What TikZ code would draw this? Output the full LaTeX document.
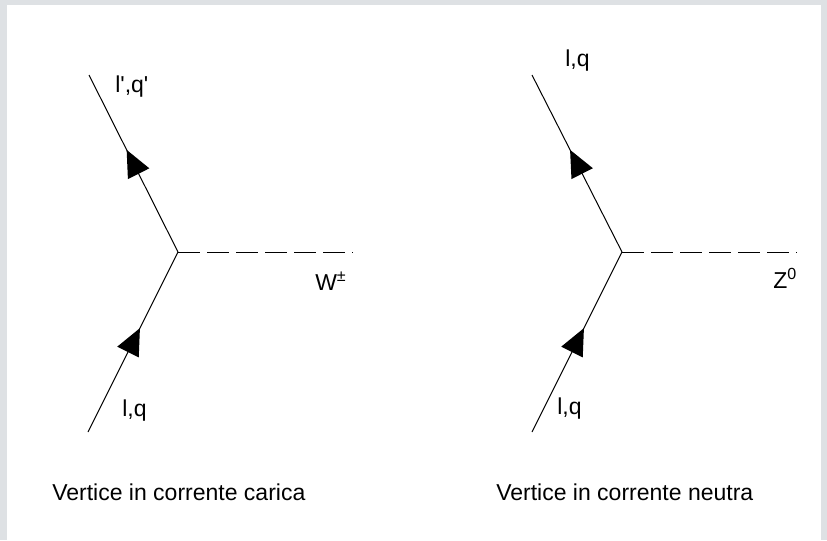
\documentclass[tikz,border=0pt]{standalone}
\usepackage{fontspec}
\setmainfont{Liberation Sans}
\usetikzlibrary{decorations.markings}
\definecolor{framegray}{HTML}{DEE1E4}
\begin{document}
\begin{tikzpicture}[x=0.75pt,y=-0.75pt,
  lbl/.style={font=\fontsize{17.25}{20}\selectfont, inner sep=0pt, anchor=base west},
  fermion/.style={line width=0.75pt, postaction={decorate},
    decoration={markings, mark=at position 0.577 with {\fill (0pt,0pt) -- (-20pt,9pt) -- (-20pt,-9pt) -- cycle;}}},
  boson/.style={line width=0.75pt, dash pattern=on 16.5pt off 5.25pt}]
\useasboundingbox (0,0) rectangle (827,540);
\fill[framegray] (0,0) rectangle (827,540);
\fill[white] (7,5) rectangle (821,540);
% left diagram
\coordinate (v1) at (178,252);
\coordinate (t1) at (89,75);
\coordinate (b1) at (88,432);
\coordinate (e1) at (353,252);
\draw[fermion] (b1) -- (v1);
\draw[fermion] (v1) -- (t1);
\draw[boson] (v1) -- (e1);
\node[lbl] (lt1) at (115,92) {l\textquotesingle,q\textquotesingle};
\node[lbl] (lb1) at (122,416) {l,q};
\node[lbl] (lw) at (315,290) {W\textsuperscript{±}};
\node[lbl] (cap1) at (52,500) {Vertice in corrente carica};
% right diagram
\coordinate (v2) at (622,252);
\coordinate (t2) at (532,75);
\coordinate (b2) at (532,432);
\coordinate (e2) at (797,252);
\draw[fermion] (b2) -- (v2);
\draw[fermion] (v2) -- (t2);
\draw[boson] (v2) -- (e2);
\node[lbl] (lt2) at (565,66) {l,q};
\node[lbl] (lb2) at (557,414) {l,q};
\node[lbl] (lz) at (773,288) {Z\textsuperscript{0}};
\node[lbl] (cap2) at (496,500) {Vertice in corrente neutra};
\end{tikzpicture}
\end{document}
